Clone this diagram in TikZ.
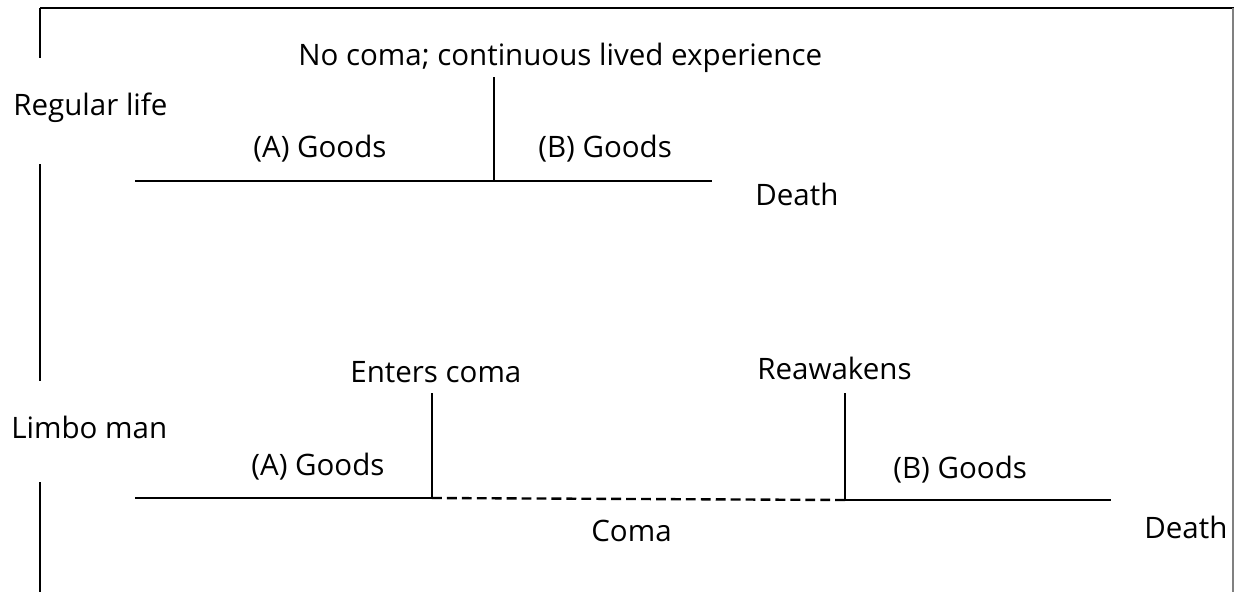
\documentclass[tikz,border=0pt]{standalone}
\usepackage{fontspec}
\setmainfont{Open Sans}
\begin{document}
\begin{tikzpicture}[
    x=0.02cm, y=-0.02cm,
    font=\fontsize{16.8}{20}\selectfont,
    lbl/.style={
        anchor=base west,
        inner sep=0pt
    },
    tline/.style={
        line width=1.35pt
    },
    comaline/.style={
        line width=1.35pt,
        dash pattern=on 5.6pt off 2.9pt
    }
]
\useasboundingbox (0,0) rectangle (1234,592);

% frame
\coordinate (tl) at (40,8);
\coordinate (tr) at (1234,8);
\coordinate (br) at (1233,592);
\draw[tline] (tl) -- (tr);
\draw[gray, line width=0.6pt] (1233,8) -- (br);
\draw[tline] (tl) -- (40,58);
\draw[tline] (40,164) -- (40,381);
\draw[tline] (40,482) -- (40,592);

% regular life
\node[lbl] (regular) at (13,115) {Regular life};
\node[lbl] (nocoma) at (298,65) {No coma; continuous lived experience};
\node[lbl] (rgoodsa) at (253,157) {(A) Goods};
\node[lbl] (rgoodsb) at (538,157) {(B) Goods};
\node[lbl] (rdeath) at (755,205) {Death};

\coordinate (rstart) at (135,181);
\coordinate (rmid) at (494,181);
\coordinate (rtop) at (494,77);
\coordinate (rend) at (712,181);
\draw[tline] (rstart) -- (rmid) -- (rend);
\draw[tline] (rtop) -- (rmid);

% limbo man
\node[lbl] (limbo) at (11,438) {Limbo man};
\node[lbl] (enters) at (350,382) {Enters coma};
\node[lbl] (reawake) at (757,379) {Reawakens};
\node[lbl] (lgoodsa) at (251,475) {(A) Goods};
\node[lbl] (lgoodsb) at (893,478) {(B) Goods};
\node[lbl] (coma) at (591,541) {Coma};
\node[lbl] (ldeath) at (1144,538) {Death};

\coordinate (lstart) at (135,498);
\coordinate (lin) at (432,498);
\coordinate (lintop) at (432,393);
\coordinate (lout) at (845,500);
\coordinate (louttop) at (845,393);
\coordinate (lend) at (1111,500);
\draw[tline] (lstart) -- (lin) -- (lintop);
\draw[comaline] (lin) -- (lout);
\draw[tline] (louttop) -- (lout) -- (lend);
\end{tikzpicture}
\end{document}
